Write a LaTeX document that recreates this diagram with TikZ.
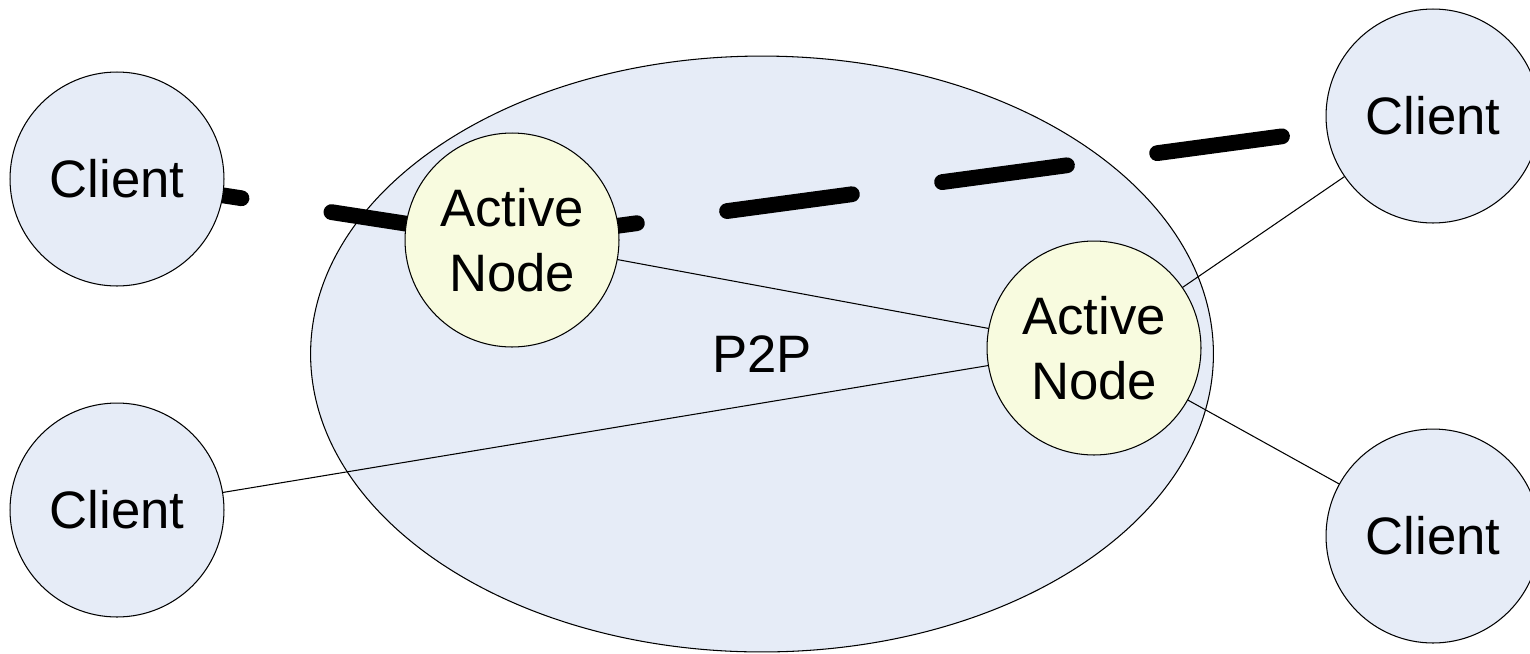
\documentclass[tikz,border=0pt]{standalone}
\usepackage{fontspec}
\setmainfont{Liberation Sans}
\usepackage{xcolor}
\usetikzlibrary{shapes.geometric}
\definecolor{clientblue}{HTML}{E6ECF7}
\definecolor{activeyellow}{HTML}{F8FBDF}
\pgfdeclarelayer{back}
\pgfdeclarelayer{links}
\pgfsetlayers{back,links,main}

\begin{document}
\begin{tikzpicture}[
  x=0.02cm, y=-0.02cm,
  client/.style={circle, draw, line width=0.6pt, fill=clientblue, inner sep=0pt, minimum size=4.28cm, align=center, font=\fontsize{30}{37}\selectfont},
  active/.style={client, fill=activeyellow},
  link/.style={line width=0.6pt},
  dashlink/.style={line width=9pt, line cap=round, dash pattern=on 71.7pt off 51.8pt}
]
\useasboundingbox (0,0) rectangle (1530,653);

% P2P overlay
\begin{pgfonlayer}{back}
\node[ellipse, draw, line width=0.6pt, fill=clientblue, minimum width=18.06cm, minimum height=11.92cm, inner sep=0pt, font=\fontsize{30}{37}\selectfont] (p2p) at (762,354) {P2P};
\end{pgfonlayer}

\node[client] (cl1) at (117,179) {Client};
\node[client] (cl2) at (117,510) {Client};
\node[client] (cl3) at (1433,116) {Client};
\node[client] (cl4) at (1433,536) {Client};
\node[active] (an1) at (512,240) {Active\\Node};
\node[active] (an2) at (1094,348) {Active\\Node};

% links, center to center, behind the circles
\begin{pgfonlayer}{links}
\draw[dashlink] (cl1.center) -- (an1.center);
\draw[dashlink] (an1.center) -- (cl3.center);
\draw[link] (an1.center) -- (an2.center);
\draw[link] (cl2.center) -- (an2.center);
\draw[link] (an2.center) -- (cl3.center);
\draw[link] (an2.center) -- (cl4.center);
\end{pgfonlayer}
\end{tikzpicture}
\end{document}
